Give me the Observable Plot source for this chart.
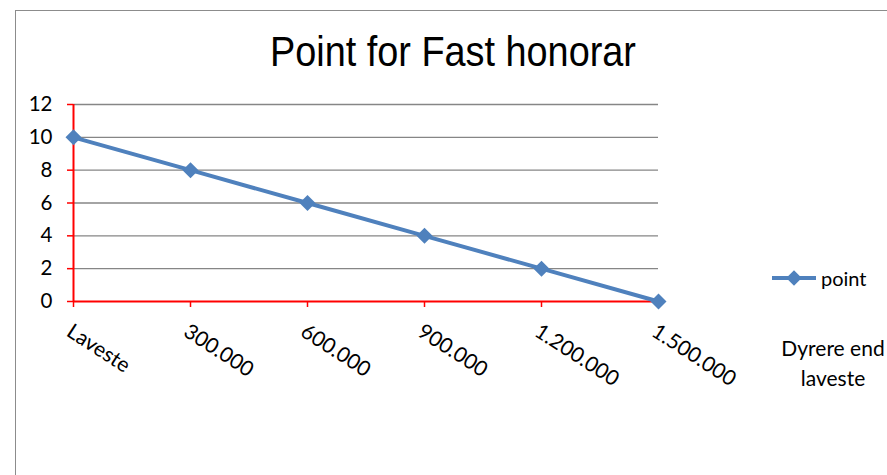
<!DOCTYPE html>
<html>
<head>
<meta charset="utf-8">
<script src="https://cdn.jsdelivr.net/npm/d3@7"></script>
<script src="https://cdn.jsdelivr.net/npm/@observablehq/plot@0.6"></script>
<style>
  html, body { margin: 0; padding: 0; background: #fff; }
  #wrap { position: relative; width: 887px; height: 475px; overflow: hidden; font-family: Lato, "Open Sans", sans-serif; color: #000; }
  #frame { position: absolute; left: 15px; top: 10px; width: 1000px; height: 1000px; border: 1.5px solid #8c8c8c; box-sizing: border-box; }
  #chart { position: absolute; left: 0; top: 0; }
  #title { position: absolute; left: 0; width: 906px; top: 26px; text-align: center; font-family: "Liberation Sans", sans-serif; font-size: 43px; line-height: 50px; }
  #title span { display: inline-block; transform: scaleX(0.88); transform-origin: center; }
  #legend { position: absolute; left: 770px; top: 264px; display: flex; align-items: center; font-size: 20px; }
  #extra { position: absolute; left: 773px; width: 120px; top: 333px; text-align: center; font-size: 21px; line-height: 30px; }
</style>
</head>
<body>
<div id="wrap">
  <div id="frame"></div>
  <div id="chart"></div>
  <div id="title"><span></span></div>
  <div id="legend"></div>
  <div id="extra"></div>
</div>
<script>
const title = "Point for Fast honorar";
const categories = ["Laveste", "300.000", "600.000", "900.000", "1.200.000", "1.500.000"];
const points = [10, 8, 6, 4, 2, 0];
const yTicks = [0, 2, 4, 6, 8, 10, 12];
const seriesName = "point";
const extraLabel = ["Dyrere end", "laveste"];

const blue = "#4F81BD";
const data = categories.map((c, i) => ({cat: c, point: points[i]}));

const chart = Plot.plot({
  width: 887,
  height: 475,
  marginLeft: 73,
  marginRight: 229,
  marginTop: 104,
  marginBottom: 174,
  style: {fontFamily: "Lato, 'Open Sans', sans-serif", fontSize: "20px", color: "#000", background: "transparent", overflow: "visible"},
  x: {type: "point", domain: categories, padding: 0},
  y: {domain: [0, 12]},
  marks: [
    Plot.ruleY(yTicks.filter(d => d > 0), {stroke: "#868686", strokeWidth: 1.3}),
    Plot.axisY(yTicks, {tickSize: 6, tickPadding: 15, stroke: "red", strokeWidth: 1.5, fontSize: 20.5, label: null}),
    Plot.axisX({tickSize: 6, stroke: "red", strokeWidth: 1.5, tickFormat: () => "", label: null}),
    Plot.ruleY([0], {stroke: "red", strokeWidth: 2}),
    Plot.ruleX([categories[0]], {stroke: "red", strokeWidth: 2}),
    Plot.text(categories, {x: d => d, y: 0, dy: 21, dx: 0, rotate: 33, textAnchor: "start", lineAnchor: "top", fontSize: 21, fill: "#000"}),
    Plot.line(data, {x: "cat", y: "point", stroke: blue, strokeWidth: 4}),
    Plot.dot(data, {x: "cat", y: "point", symbol: "square", r: 6.4, rotate: 45, fill: blue, stroke: "none"})
  ]
});
document.getElementById("chart").appendChild(chart);

document.querySelector("#title span").textContent = title;

document.getElementById("legend").innerHTML =
  `<svg width="48" height="28" style="margin-right:3px"><line x1="2" x2="46" y1="14" y2="14" stroke="${blue}" stroke-width="4"/>` +
  `<rect x="18.5" y="8.5" width="11" height="11" fill="${blue}" transform="rotate(45 24 14)"/></svg><span>${seriesName}</span>`;

document.getElementById("extra").innerHTML = extraLabel.join("<br>");
</script>
</body>
</html>
